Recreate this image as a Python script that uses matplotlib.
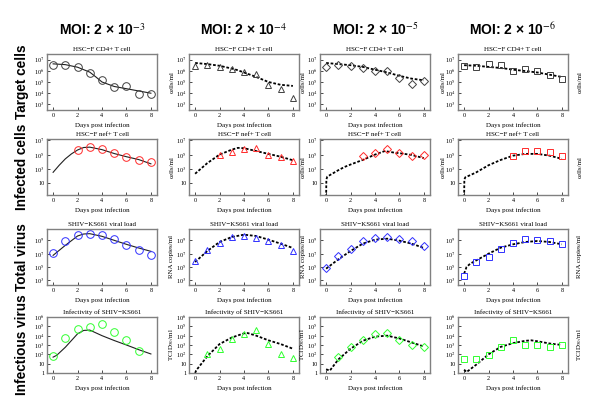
import numpy as np
import matplotlib
matplotlib.use('Agg')
import matplotlib.pyplot as plt

plt.rcParams['mathtext.fontset'] = 'stix'

# Column headers, row names, panel titles
moi_labels = ['MOI: 2 \u00d7 10$^{-3}$', 'MOI: 2 \u00d7 10$^{-4}$',
              'MOI: 2 \u00d7 10$^{-5}$', 'MOI: 2 \u00d7 10$^{-6}$']
row_names = ['Target cells', 'Infected cells', 'Total virus', 'Infectious virus']
panel_titles = ['HSC\u2212F CD4+ T cell', 'HSC\u2212F nef+ T cell',
                'SHIV\u2212KS661 viral load', 'Infectivity of SHIV\u2212KS661']
units = ['cells/ml', 'cells/ml', 'RNA copies/ml', r'TCID$_{50}$/ml']

# observed data, log10 values (one list per MOI column)
target_days = [[0, 1, 2, 3, 4, 5, 6, 7, 8]] * 4
target_obs = [
    [6.55, 6.55, 6.3, 5.8, 5.2, 4.55, 4.65, 3.95, 3.95],
    [6.4, 6.5, 6.3, 6.2, 5.85, 5.75, 4.75, 4.35, 3.6],
    [6.35, 6.55, 6.45, 6.25, 5.95, 6.0, 5.35, 4.85, 5.1],
    [6.4, 6.3, 6.6, 6.5, 6.0, 6.2, 5.95, 5.6, 5.25],
]
infected_days = [[2, 3, 4, 5, 6, 7, 8], [2, 3, 4, 5, 6, 7, 8],
                 [3, 4, 5, 6, 7, 8], [4, 5, 6, 7, 8]]
infected_obs = [
    [5.6, 6.1, 5.8, 5.25, 4.65, 4.25, 3.9],
    [5.0, 5.3, 5.8, 6.0, 5.0, 4.7, 4.1],
    [4.75, 5.25, 5.75, 5.25, 4.85, 4.95],
    [4.75, 5.5, 5.5, 5.35, 4.85],
]
virus_days = [[0, 1, 2, 3, 4, 5, 6, 7, 8]] * 4
virus_obs = [
    [7.1, 8.85, 9.75, 10.0, 9.85, 9.25, 8.35, 7.5, 6.85],
    [5.95, 7.5, 8.6, 9.5, 9.65, 9.35, 8.85, 8.35, 7.4],
    [4.9, 6.6, 7.7, 8.85, 9.35, 9.45, 9.2, 8.85, 8.1],
    [3.6, 5.75, 6.5, 7.75, 8.6, 9.15, 9.1, 8.9, 8.5],
]
infectious_days = [[0, 1, 2, 3, 4, 5, 6, 7], [1, 2, 3, 4, 5, 6, 7, 8],
                   [1, 2, 3, 4, 5, 6, 7, 8], [0, 1, 2, 3, 4, 5, 6, 7, 8]]
infectious_obs = [
    [1.8, 3.7, 4.75, 4.9, 5.3, 4.4, 3.5, 2.4],
    [2.0, 2.55, 3.65, 4.2, 4.6, 3.1, 2.0, 1.65],
    [1.7, 2.75, 3.55, 4.2, 4.25, 3.55, 3.05, 2.75],
    [1.55, 1.55, 1.9, 2.75, 3.55, 3.0, 3.0, 2.75, 3.0],
]

# model curves, log10 values
target_mdays = [[0, 1, 2, 3, 3.5, 4, 5, 6, 7, 8]] * 4
target_model = [
    [6.62, 6.55, 6.32, 5.88, 5.45, 5.0, 4.6, 4.4, 4.2, 4.0],
    [6.7, 6.6, 6.45, 6.2, 6.05, 5.85, 5.45, 5.0, 4.75, 4.65],
    [6.7, 6.6, 6.5, 6.35, 6.22, 6.1, 5.85, 5.55, 5.3, 5.15],
    [6.5, 6.45, 6.35, 6.25, 6.18, 6.1, 5.98, 5.85, 5.65, 5.45],
]
infected_mdays = [
    [0, 0.5, 1, 1.5, 2, 2.5, 3, 4, 5, 6, 7, 8],
    [0, 1, 2, 3, 3.5, 4, 5, 6, 7, 8],
    [0, 0.02, 0.1, 0.5, 1, 1.5, 2, 3, 4, 4.8, 5.5, 6, 7, 8],
    [0, 0.02, 0.1, 0.5, 1, 2, 3, 4, 5, 6, 7, 8],
]
infected_model = [
    [2.5, 3.5, 4.4, 5.1, 5.65, 6.0, 6.05, 5.7, 5.15, 4.7, 4.3, 3.7],
    [2.3, 3.8, 5.0, 5.7, 5.95, 5.9, 5.5, 5.1, 4.7, 4.2],
    [-1.0, 1.5, 1.9, 2.3, 2.8, 3.25, 3.6, 4.25, 5.0, 5.5, 5.3, 5.2, 4.95, 4.5],
    [-1.0, 1.5, 1.8, 2.1, 2.5, 3.5, 4.25, 4.85, 5.1, 5.1, 4.85, 4.4],
]
virus_mdays = [
    [0, 1, 2, 2.5, 3, 4, 5, 6, 7, 8],
    [0, 1, 2, 3, 4, 5, 6, 7, 8],
    [0, 1, 2, 3, 4, 5, 6, 7, 8],
    [0, 0.2, 0.5, 1, 2, 3, 4, 5, 6, 7, 8],
]
virus_model = [
    [6.75, 8.25, 9.65, 9.95, 10.0, 9.6, 9.0, 8.4, 7.85, 7.35],
    [5.75, 7.4, 8.75, 9.5, 9.85, 9.65, 9.1, 8.5, 7.85],
    [4.75, 6.15, 7.4, 8.5, 9.1, 9.25, 8.95, 8.5, 7.85],
    [4.0, 5.0, 5.5, 6.0, 7.0, 7.9, 8.4, 8.75, 8.9, 8.75, 8.4],
]
infectious_mdays = [
    [0, 0.3, 1, 2, 2.5, 3, 4, 5, 6, 7, 8],
    [0, 0.1, 1, 2, 3, 4, 4.3, 5, 6, 7, 8],
    [0, 0.3, 1, 2, 3, 4, 5, 6, 7, 8],
    [0, 0.2, 1, 2, 3, 4, 5, 5.5, 6, 7, 8],
]
infectious_model = [
    [1.7, 1.9, 2.76, 4.2, 4.56, 4.6, 4.0, 3.48, 3.0, 2.5, 2.04],
    [0.0, 0.3, 1.8, 3.1, 3.8, 4.25, 4.28, 4.0, 3.5, 3.1, 2.6],
    [0.4, 0.25, 1.45, 2.6, 3.45, 3.9, 4.0, 3.7, 3.27, 2.84],
    [0.36, 0.1, 0.9, 2.0, 2.8, 3.2, 3.45, 3.5, 3.4, 3.16, 3.0],
]

obs_days = [target_days, infected_days, virus_days, infectious_days]
obs_vals = [target_obs, infected_obs, virus_obs, infectious_obs]
mod_days = [target_mdays, infected_mdays, virus_mdays, infectious_mdays]
mod_vals = [target_model, infected_model, virus_model, infectious_model]

row_ylims = [(10**2.5, 10**7.5), (10**-0.7, 10**7.2), (10**2.3, 10**10.7), (1, 1e6)]
row_yticks = [[1e3, 1e4, 1e5, 1e6, 1e7], [1e1, 1e3, 1e5, 1e7],
              [1e3, 1e5, 1e7, 1e9], [1, 1e1, 1e2, 1e3, 1e4, 1e5, 1e6]]
row_colors = ['#404040', '#ff2a2a', '#3030ff', '#30ff30']
col_markers = ['o', '^', 'D', 's']
col_msize = [5.5, 5, 4, 5]

# layout in pixels (600x415 figure)
W, H = 600, 415
col_left = [47, 189, 320, 458]
row_top = [54, 139, 229, 317]
ax_w, ax_h = 110, 56

serif = 'Liberation Serif'
fig = plt.figure(figsize=(6, 4.15), dpi=100)


def tick_fmt(v):
    if v == 1:
        return '1'
    if v == 10:
        return '10'
    return r'10$^{%d}$' % round(np.log10(v))


for r in range(4):
    for c in range(4):
        ax = fig.add_axes([col_left[c] / W, 1 - (row_top[r] + ax_h) / H, ax_w / W, ax_h / H])
        md = mod_days[r][c]
        mv = 10 ** np.array(mod_vals[r][c])
        if c == 0:
            ax.plot(md, mv, color='#202020', lw=0.8)
        else:
            ax.plot(md, mv, color='black', lw=1.3, ls=(0, (1.5, 1)))
        ax.plot(obs_days[r][c], 10 ** np.array(obs_vals[r][c]), ls='none',
                marker=col_markers[c], ms=col_msize[c], mfc='none',
                mec=row_colors[r], mew=0.7)
        ax.set_yscale('log')
        ax.set_ylim(*row_ylims[r])
        ax.set_xlim(-0.5, 8.5)
        ax.set_xticks([0, 2, 4, 6, 8])
        ax.set_yticks(row_yticks[r])
        ax.set_yticklabels([tick_fmt(v) for v in row_yticks[r]])
        ax.minorticks_off()
        ax.tick_params(direction='in', length=2, width=0.5, labelsize=4.5, pad=2)
        for lab in ax.get_xticklabels() + ax.get_yticklabels():
            lab.set_fontfamily(serif)
        for sp in ax.spines.values():
            sp.set_color('#808080')
            sp.set_linewidth(1.0)
        ax.set_title(panel_titles[r], fontsize=5, family=serif, pad=2.5)
        ax.set_xlabel('Days post infection', fontsize=5, family=serif, labelpad=3)

        # unit labels, placed like the original composite
        cy = 1 - (row_top[r] + ax_h / 2) / H
        if c in (1, 2):
            fig.text((col_left[c] - 17) / W, cy, units[r], rotation=90, fontsize=5,
                     family=serif, ha='center', va='center')
        if c == 3:
            fig.text((col_left[c] + ax_w + 12) / W, cy, units[r], rotation=90, fontsize=5,
                     family=serif, ha='center', va='center')
            if r < 2:
                fig.text((col_left[c] - 15) / W, cy, units[r], rotation=90, fontsize=5,
                         family=serif, ha='center', va='center')

for c in range(4):
    fig.text((col_left[c] + ax_w / 2) / W, 1 - 30 / H, moi_labels[c], fontsize=10,
             fontweight='bold', family='Liberation Sans', ha='center', va='center')

for r in range(4):
    fig.text(22 / W, 1 - (row_top[r] + ax_h / 2) / H, row_names[r], rotation=90,
             fontsize=9.8, fontweight='bold', family='Liberation Sans',
             ha='center', va='center')

fig.savefig('out.png', dpi=100)
